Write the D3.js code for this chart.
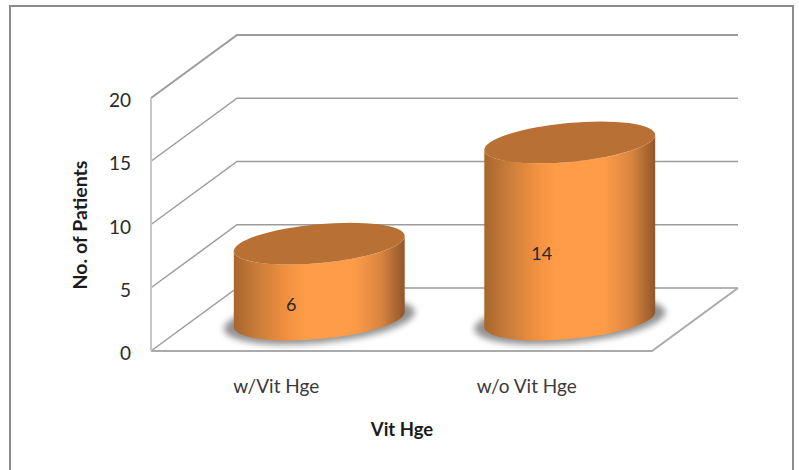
<!DOCTYPE html>
<html>
<head>
<meta charset="utf-8">
<script src="https://cdn.jsdelivr.net/npm/d3@7/dist/d3.min.js"></script>
<style>
  html, body { margin: 0; padding: 0; background: #fff; }
  svg { display: block; }
  text { font-family: Lato, "Open Sans", sans-serif; }
</style>
</head>
<body>
<svg id="chart" width="799" height="470"></svg>
<script>
const categories = ["w/Vit Hge", "w/o Vit Hge"];
const patients = [6, 14];
const yTicks = [0, 5, 10, 15, 20];
const xTitle = "Vit Hge";
const yTitle = "No. of Patients";

const svg = d3.select("#chart");

// Oblique projection of the 3D box: the front-left floor corner is the origin.
const front = { left: 151, right: 652, floor: 351, top: 98 };
const depth = { dx: 86, dy: -63 };

const x = d3.scaleBand().domain(categories).range([front.left, front.right]);
const y = d3.scaleLinear().domain([0, 20]).range([front.floor, front.top]);
const project = (px, py, d) => [px + depth.dx * d, py + depth.dy * d];

// Cylinder cross-section: a slightly tilted ellipse
const cyl = { rx: 85.8, ry: 19.5, tilt: -5.3 };
const tiltRad = cyl.tilt * Math.PI / 180;
const xExtent = Math.hypot(cyl.rx * Math.cos(tiltRad), cyl.ry * Math.sin(tiltRad));
const yAtExtent = (cyl.rx * cyl.rx - cyl.ry * cyl.ry) * Math.sin(tiltRad) * Math.cos(tiltRad) / xExtent;

const defs = svg.append("defs");
const bodyGrad = defs.append("linearGradient").attr("id", "cylBody");
[[0, "#a9652c"], [0.12, "#c47a38"], [0.3, "#f0903f"], [0.42, "#ff9c48"],
 [0.7, "#ff9c48"], [0.86, "#d98540"], [1, "#915629"]].forEach(([o, c]) =>
  bodyGrad.append("stop").attr("offset", o).attr("stop-color", c));
defs.append("filter").attr("id", "soft")
  .attr("x", "-20%").attr("y", "-40%").attr("width", "140%").attr("height", "180%")
  .append("feGaussianBlur").attr("stdDeviation", 3);

// Outer chart frame; its lower edge runs past the bottom of the page
svg.append("rect")
  .attr("x", 10).attr("y", 6).attr("width", 783).attr("height", 480)
  .attr("fill", "#fff").attr("stroke", "#8c8c8c").attr("stroke-width", 2);

// Gridlines: side wall diagonal plus back wall horizontal
const wallLine = d3.line();
const grid = svg.append("g").attr("fill", "none").attr("stroke", "#9c9c9c");
yTicks.forEach(t => {
  grid.append("path")
    .attr("d", wallLine([
      project(front.left, y(t), 0),
      project(front.left, y(t), 1),
      project(front.right, y(t), 1)
    ]))
    .attr("stroke-width", t === 20 ? 2 : 1.5);
});
// Floor front and right edges, side wall front edge
grid.append("path").attr("d", wallLine([
  project(front.right, y(0), 1), project(front.right, y(0), 0), project(front.left, y(0), 0)
])).attr("stroke", "#ababab").attr("stroke-width", 2);
grid.append("path").attr("d", wallLine([
  project(front.left, y(20), 0), project(front.left, y(0), 0)
])).attr("stroke", "#c8c8c8").attr("stroke-width", 2);

// Cylinders
const bars = svg.append("g").selectAll("g").data(categories).join("g");
bars.each(function (cat, i) {
  const g = d3.select(this);
  const [cx, baseY] = project(x(cat) + x.bandwidth() / 2, y(0), 0.5);
  const topY = baseY - (y(0) - y(patients[i]));

  g.append("ellipse")
    .attr("cx", cx).attr("cy", baseY + 1)
    .attr("transform", `rotate(${cyl.tilt} ${cx} ${baseY})`)
    .attr("rx", cyl.rx + 10).attr("ry", cyl.ry + 3)
    .attr("fill", "#929292").attr("filter", "url(#soft)");

  const arc = sweep => `A${cyl.rx} ${cyl.ry} ${cyl.tilt} 0 ${sweep}`;
  const body = [
    `M${cx - xExtent} ${topY - yAtExtent}`,
    `L${cx - xExtent} ${baseY - yAtExtent}`,
    `${arc(0)} ${cx + xExtent} ${baseY + yAtExtent}`,
    `L${cx + xExtent} ${topY + yAtExtent}`,
    `${arc(1)} ${cx - xExtent} ${topY - yAtExtent}`,
    "Z"
  ].join("");
  g.append("path").attr("d", body).attr("fill", "url(#cylBody)");

  g.append("ellipse")
    .attr("rx", cyl.rx).attr("ry", cyl.ry)
    .attr("cx", cx).attr("cy", topY)
    .attr("transform", `rotate(${cyl.tilt} ${cx} ${topY})`)
    .attr("fill", "#b97034");

  g.append("text")
    .attr("x", cx - 28).attr("y", (topY + baseY) / 2 + 29)
    .attr("text-anchor", "middle")
    .attr("font-size", 18)
    .style("fill", "#2a2a2a")
    .text(patients[i]);
});

// Value axis labels
svg.append("g").selectAll("text").data(yTicks).join("text")
  .attr("x", 131).attr("y", d => y(d) + 9)
  .attr("text-anchor", "end")
  .attr("font-size", 19)
  .style("fill", "#2a2a2a")
  .text(d => d);

// Category labels
svg.append("g").selectAll("text").data(categories).join("text")
  .attr("x", d => x(d) + x.bandwidth() / 2)
  .attr("y", 393)
  .attr("text-anchor", "middle")
  .attr("font-size", 19)
  .style("fill", "#3a3a3a")
  .text(d => d);

svg.append("text")
  .attr("x", 402).attr("y", 436)
  .attr("text-anchor", "middle")
  .attr("font-size", 18.5).attr("font-weight", 700)
  .style("fill", "#1c1c1c")
  .text(xTitle);

svg.append("text")
  .attr("transform", "translate(87 225) rotate(-90)")
  .attr("text-anchor", "middle")
  .attr("font-size", 19.5).attr("font-weight", 700)
  .style("fill", "#1c1c1c")
  .text(yTitle);
</script>
</body>
</html>
